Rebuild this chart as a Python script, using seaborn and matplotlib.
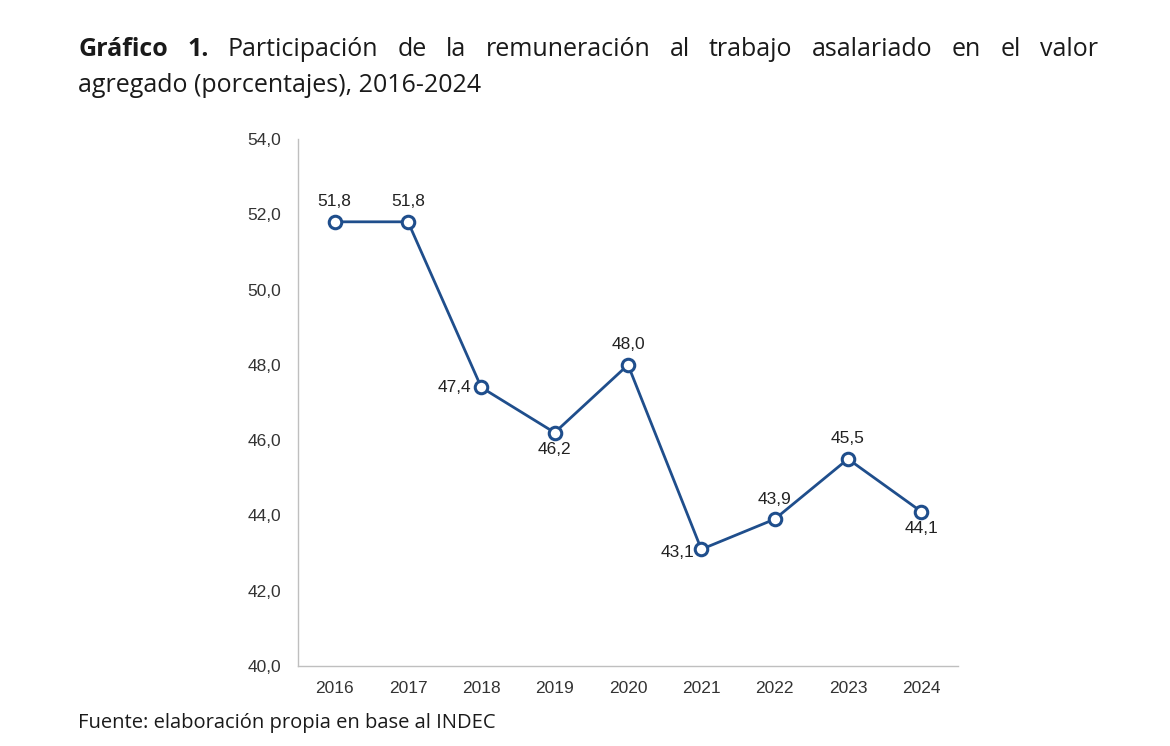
import matplotlib
matplotlib.use("Agg")
import matplotlib.pyplot as plt
import seaborn as sns
import pandas as pd

years = ["2016", "2017", "2018", "2019", "2020", "2021", "2022", "2023", "2024"]
values = [51.8, 51.8, 47.4, 46.2, 48.0, 43.1, 43.9, 45.5, 44.1]
label_pos = ["above", "above", "left", "below", "above", "leftbelow", "above", "above", "below"]
yticks = [40, 42, 44, 46, 48, 50, 52, 54]

sns.set_theme(style="white")
plt.rcParams['font.family'] = ['Liberation Sans', 'DejaVu Sans']

df = pd.DataFrame({"year": years, "value": values})

fig = plt.figure(figsize=(11.7, 7.46), dpi=100)
ax = fig.add_axes([298/1170, 1-666/746, (958-298)/1170, (666-139)/746])

color = "#1f4e8c"
sns.lineplot(data=df, x="year", y="value", ax=ax, color=color, linewidth=2.0,
             marker="o", markersize=9, markerfacecolor="white",
             markeredgecolor=color, markeredgewidth=2.2, sort=False)

ax.set_ylim(40, 54)
ax.set_xlim(-0.5, len(years) - 0.5)
ax.set_yticks(yticks)
ax.set_yticklabels([f"{v:.1f}".replace(".", ",") for v in yticks])
ax.set_xlabel("")
ax.set_ylabel("")
ax.tick_params(axis="both", length=0, labelsize=12.5, colors="#333333")
ax.tick_params(axis="y", pad=12)
ax.tick_params(axis="x", pad=11)
for s in ["top", "right"]:
    ax.spines[s].set_visible(False)
for s in ["left", "bottom"]:
    ax.spines[s].set_color("#bfbfbf")
    ax.spines[s].set_linewidth(1.0)

lfs = 12.5
for i, (v, p) in enumerate(zip(values, label_pos)):
    txt = f"{v:.1f}".replace(".", ",")
    if p == "above":
        ax.annotate(txt, (i, v), xytext=(0, 9), textcoords="offset points",
                    ha="center", va="bottom", fontsize=lfs, color="#222222")
    elif p == "below":
        ax.annotate(txt, (i, v), xytext=(0, -7), textcoords="offset points",
                    ha="center", va="top", fontsize=lfs, color="#222222")
    elif p == "left":
        ax.annotate(txt, (i, v), xytext=(-7, 0), textcoords="offset points",
                    ha="right", va="center", fontsize=lfs, color="#222222")
    else:
        ax.annotate(txt, (i, v), xytext=(-5, -2), textcoords="offset points",
                    ha="right", va="center", fontsize=lfs, color="#222222")

# Title, first line justified
title_words = [("Gráfico", "bold"), ("1.", "bold"), ("Participación", "normal"), ("de", "normal"),
               ("la", "normal"), ("remuneración", "normal"), ("al", "normal"), ("trabajo", "normal"),
               ("asalariado", "normal"), ("en", "normal"), ("el", "normal"), ("valor", "normal")]
tfs = 18
fig.canvas.draw()
renderer = fig.canvas.get_renderer()
objs = []
for w, wt in title_words:
    t = fig.text(0, 1 - 56/746, w, fontsize=tfs, fontweight=wt, family=["Open Sans", "DejaVu Sans"],
                 color="#1a1a1a", va="baseline", ha="left")
    objs.append(t)
widths = [t.get_window_extent(renderer).width for t in objs]
left, right = 78, 1098
gap = (right - left - sum(widths)) / (len(objs) - 1)
x = left
for t, wdt in zip(objs, widths):
    t.set_x(x / 1170)
    x += wdt + gap

fig.text(78/1170, 1 - 92/746, "agregado (porcentajes), 2016-2024", fontsize=tfs,
         family=["Open Sans", "DejaVu Sans"], color="#1a1a1a", va="baseline", ha="left")

fig.text(78/1170, 1 - 728/746, "Fuente: elaboración propia en base al INDEC", fontsize=14.5,
         family=["Open Sans", "DejaVu Sans"], color="#1a1a1a",
         va="baseline", ha="left")

fig.savefig("out.png", dpi=100, facecolor="white")
